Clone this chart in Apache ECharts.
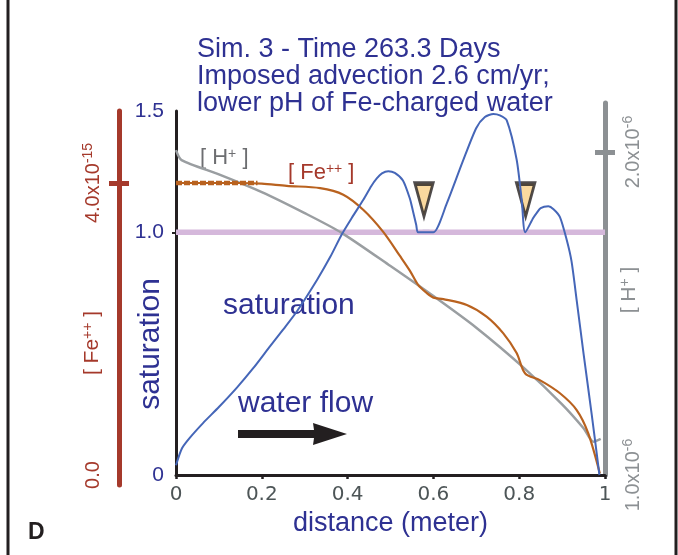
<!DOCTYPE html>
<html>
<head>
<meta charset="utf-8">
<script src="https://cdn.jsdelivr.net/npm/echarts@6/dist/echarts.min.js"></script>
<style>
  html, body { margin: 0; padding: 0; background: #fff; }
  #chart { width: 678px; height: 555px; }
</style>
</head>
<body>
<div id="chart"></div>
<script>
// saturation profile (distance in m, saturation)
const satX = [0, 0.014, 0.033, 0.063, 0.10, 0.142, 0.18, 0.219, 0.25, 0.282, 0.329, 0.36, 0.386, 0.41, 0.437, 0.455, 0.468, 0.48, 0.495, 0.51, 0.529, 0.545, 0.552, 0.56, 0.564,
  0.583, 0.60, 0.631, 0.668, 0.70, 0.72, 0.74, 0.755, 0.771, 0.794, 0.806, 0.814, 0.833, 0.841, 0.85, 0.868, 0.88, 0.895, 0.911, 0.922, 0.934, 0.95, 0.969, 0.987];
const satY = [0.04, 0.11, 0.155, 0.214, 0.28, 0.36, 0.44, 0.53, 0.60, 0.675, 0.805, 0.90, 0.99, 1.06, 1.135, 1.19, 1.222, 1.243, 1.252, 1.245, 1.214, 1.14, 1.09, 1.03, 1.0,
  1.0, 1.0, 1.118, 1.29, 1.43, 1.475, 1.488, 1.482, 1.461, 1.3, 1.13, 1.0, 1.06, 1.08, 1.1, 1.107, 1.095, 1.063, 0.967, 0.88, 0.72, 0.5, 0.25, 0.0];

// [H+] profile, units of 1e-6
const hX = [0, 0.013, 0.1, 0.2, 0.3, 0.386, 0.5, 0.6, 0.7, 0.814, 0.9, 0.95, 0.973, 0.99];
const hY = [2.006, 1.975, 1.931, 1.876, 1.811, 1.75, 1.647, 1.554, 1.456, 1.328, 1.219, 1.145, 1.103, 1.112];

// [Fe++] profile, units of 1e-15
const feX = [0, 0.15, 0.2, 0.258, 0.336, 0.39, 0.437, 0.483, 0.522, 0.545, 0.565, 0.583, 0.6, 0.623, 0.678, 0.724, 0.763, 0.794, 0.814, 0.848, 0.895, 0.934, 0.961, 0.988];
const feY = [4.0, 4.0, 3.99, 3.96, 3.93, 3.84, 3.63, 3.33, 3.0, 2.80, 2.60, 2.50, 2.43, 2.41, 2.33, 2.17, 1.94, 1.67, 1.39, 1.30, 1.12, 0.89, 0.57, 0.02];

// thick dashed inflow part of [Fe++]
const feInX = [0, 0.19];
const feInY = [4.0, 4.0];

// saturation = 1 reference
const refX = [0, 1];
const refY = [1, 1];

// triangles marking the saturated zones
const markX = [0.578, 0.815];
const markY = [1.133, 1.133];

const xTicks = [0, 0.2, 0.4, 0.6, 0.8, 1];
const satTicks = [0, 1, 1.5];
const feTicks = [0, 4];
const hTicks = [1, 2];

const blue = '#2e3192';
const feRed = '#a5392b';
const hGrey = '#8c9093';
const ff = '"Liberation Sans", Arial, sans-serif';

function pairs(xs, ys) {
  return xs.map((x, i) => [x, ys[i]]);
}

function sciLabel(mant, exp) {
  return '{b|' + mant + 'x10}{s|' + exp + '}';
}

let myChart = echarts.init(document.getElementById('chart'));

let option = {
  animation: false,
  backgroundColor: '#fff',
  title: {
    text: 'Sim. 3 - Time 263.3 Days\nImposed advection 2.6 cm/yr;\nlower pH of Fe-charged water',
    left: 197,
    top: 36,
    padding: 0,
    textStyle: { color: blue, fontSize: 27, lineHeight: 27, fontWeight: 'normal', fontFamily: ff }
  },
  grid: [
    { left: 176, right: 73, top: 111, bottom: 80 },
    { left: 176, right: 73, top: 111, bottom: 70 },
    { left: 176, right: 73, top: 103, bottom: 80 }
  ],
  xAxis: [
    {
      gridIndex: 0, type: 'value', min: 0, max: 1,
      name: 'distance (meter)', nameLocation: 'middle', nameGap: 30,
      nameTextStyle: { color: blue, fontSize: 27, fontFamily: ff },
      axisLine: { onZero: false, lineStyle: { color: '#231f20', width: 3 } },
      axisTick: { customValues: xTicks, length: 4, lineStyle: { color: '#231f20', width: 2.5 } },
      axisLabel: {
        customValues: xTicks, margin: 10, color: '#4d5557', fontSize: 20,
        fontFamily: '"DejaVu Sans", sans-serif',
        formatter: v => (v === 0 || v === 1) ? String(v) : v.toFixed(1)
      },
      splitLine: { show: false }
    },
    { gridIndex: 1, type: 'value', min: 0, max: 1, show: false },
    { gridIndex: 2, type: 'value', min: 0, max: 1, show: false }
  ],
  yAxis: [
    {
      gridIndex: 0, type: 'value', min: 0, max: 1.5, position: 'left',
      axisLine: { show: true, onZero: false, lineStyle: { color: '#231f20', width: 3 } },
      axisTick: { show: true, customValues: [1], length: 4, lineStyle: { color: '#231f20', width: 2 } },
      axisLabel: {
        customValues: satTicks, margin: 12, color: blue, fontSize: 21, fontFamily: ff,
        formatter: v => v === 0 ? '0' : v.toFixed(1)
      },
      splitLine: { show: false }
    },
    {
      gridIndex: 1, type: 'value', min: -0.137, max: 4.986, position: 'left', offset: 57,
      axisLine: { show: true, onZero: false, lineStyle: { color: feRed, width: 5 } },
      axisTick: { show: true, customValues: [4], length: 10, lineStyle: { color: feRed, width: 5 } },
      axisLabel: {
        customValues: feTicks, rotate: 90, margin: 16, color: feRed,
        formatter: v => v === 0 ? '{b|0.0}' : sciLabel('4.0', '-15'),
        rich: {
          b: { fontSize: 20, fontFamily: ff, color: feRed, lineHeight: 22, verticalAlign: 'bottom' },
          s: { fontSize: 14, fontFamily: ff, color: feRed, lineHeight: 22, verticalAlign: 'top', padding: [0, 0, 8, 0] }
        }
      },
      splitLine: { show: false }
    },
    {
      gridIndex: 1, type: 'value', min: -0.137, max: 4.986, position: 'left', offset: 57,
      axisLine: { show: false, onZero: false },
      axisTick: { show: true, inside: true, customValues: [4], length: 10, lineStyle: { color: feRed, width: 5 } },
      axisLabel: { show: false },
      splitLine: { show: false }
    },
    {
      gridIndex: 2, type: 'value', min: 1, max: 2.152, position: 'right',
      axisLine: { show: true, onZero: false, lineStyle: { color: hGrey, width: 5 } },
      axisTick: { show: true, customValues: [2], length: 10, lineStyle: { color: hGrey, width: 5 } },
      axisLabel: {
        customValues: hTicks, rotate: 90, margin: 16, color: hGrey,
        formatter: v => sciLabel(v.toFixed(1), '-6'),
        rich: {
          b: { fontSize: 20, fontFamily: ff, color: hGrey, lineHeight: 22, verticalAlign: 'bottom' },
          s: { fontSize: 14, fontFamily: ff, color: hGrey, lineHeight: 22, verticalAlign: 'top', padding: [0, 0, 8, 0] }
        }
      },
      splitLine: { show: false }
    },
    {
      gridIndex: 2, type: 'value', min: 1, max: 2.152, position: 'right',
      axisLine: { show: false, onZero: false },
      axisTick: { show: true, inside: true, customValues: [2], length: 10, lineStyle: { color: hGrey, width: 5 } },
      axisLabel: { show: false },
      splitLine: { show: false }
    }
  ],
  series: [
    {
      name: 'saturation = 1', type: 'line', xAxisIndex: 0, yAxisIndex: 0,
      data: pairs(refX, refY), symbol: 'none',
      lineStyle: { color: '#d5b8db', width: 5.5 }
    },
    {
      name: '[H+]', type: 'line', xAxisIndex: 2, yAxisIndex: 3,
      data: pairs(hX, hY), symbol: 'none', smooth: 0.25,
      lineStyle: { color: '#9a9ea1', width: 2.5 }
    },
    {
      name: '[Fe++]', type: 'line', xAxisIndex: 1, yAxisIndex: 1,
      data: pairs(feX, feY), symbol: 'none', smooth: 0.3,
      lineStyle: { color: '#b9621f', width: 2.2 }
    },
    {
      name: '[Fe++] inflow', type: 'line', xAxisIndex: 1, yAxisIndex: 1,
      data: pairs(feInX, feInY), symbol: 'none',
      lineStyle: { color: '#b9621f', width: 4.5, type: [6, 2] }
    },
    {
      name: 'saturation', type: 'line', xAxisIndex: 0, yAxisIndex: 0,
      data: pairs(satX, satY), symbol: 'none', smooth: 0.25,
      lineStyle: { color: '#4566b8', width: 2 }
    },
    {
      name: 'saturated point', type: 'scatter', xAxisIndex: 0, yAxisIndex: 0,
      data: [[0.583, 1.0]], symbol: 'rect', symbolSize: [7, 5],
      itemStyle: { color: '#4566b8' }
    },
    {
      name: 'markers', type: 'scatter', xAxisIndex: 0, yAxisIndex: 0,
      data: pairs(markX, markY), symbol: 'triangle', symbolRotate: 180, symbolSize: [18, 33],
      itemStyle: { color: '#f9cf87', borderColor: '#231f20', borderWidth: 3.5 }
    }
  ],
  graphic: [
    { type: 'line', shape: { x1: 8, y1: 0, x2: 8, y2: 555 }, style: { stroke: '#231f20', lineWidth: 3 } },
    { type: 'line', shape: { x1: 676, y1: 0, x2: 676, y2: 555 }, style: { stroke: '#231f20', lineWidth: 3 } },
    {
      type: 'text', x: 92, y: 343, rotation: Math.PI / 2,
      style: {
        text: '[ Fe{s|++} ]', fill: feRed, font: '21px ' + ff, textAlign: 'center', textVerticalAlign: 'middle',
        rich: { s: { fontSize: 14, fontFamily: ff, fill: feRed, verticalAlign: 'top', padding: [0, 0, 8, 0] } }
      }
    },
    {
      type: 'text', x: 151, y: 344, rotation: Math.PI / 2,
      style: { text: 'saturation', fill: blue, font: '30px ' + ff, textAlign: 'center', textVerticalAlign: 'middle' }
    },
    {
      type: 'text', x: 629, y: 290, rotation: Math.PI / 2,
      style: {
        text: '[ H{s|+} ]', fill: hGrey, font: '21px ' + ff, textAlign: 'center', textVerticalAlign: 'middle',
        rich: { s: { fontSize: 14, fontFamily: ff, fill: hGrey, verticalAlign: 'top', padding: [0, 0, 8, 0] } }
      }
    },
    {
      type: 'text', x: 200, y: 158,
      style: {
        text: '[ H{s|+} ]', fill: '#6d6e71', font: '22px ' + ff, textAlign: 'left', textVerticalAlign: 'middle',
        rich: { s: { fontSize: 14, fontFamily: ff, fill: '#6d6e71', verticalAlign: 'top', padding: [0, 0, 8, 0] } }
      }
    },
    {
      type: 'text', x: 288, y: 173,
      style: {
        text: '[ Fe{s|++} ]', fill: feRed, font: '22px ' + ff, textAlign: 'left', textVerticalAlign: 'middle',
        rich: { s: { fontSize: 14, fontFamily: ff, fill: feRed, verticalAlign: 'top', padding: [0, 0, 8, 0] } }
      }
    },
    {
      type: 'text', x: 223, y: 306,
      style: { text: 'saturation', fill: blue, font: '30px ' + ff, textAlign: 'left', textVerticalAlign: 'middle' }
    },
    {
      type: 'text', x: 238, y: 404,
      style: { text: 'water flow', fill: blue, font: '30px ' + ff, textAlign: 'left', textVerticalAlign: 'middle' }
    },
    {
      type: 'polygon',
      shape: { points: [[238, 430], [314, 430], [313, 423], [347, 434], [313, 445], [314, 438], [238, 438]] },
      style: { fill: '#231f20' }
    },
    {
      type: 'text', x: 28, y: 533,
      style: { text: 'D', fill: '#231f20', font: 'bold 23px ' + ff, textAlign: 'left', textVerticalAlign: 'middle' }
    }
  ]
};

myChart.setOption(option);
</script>
</body>
</html>
